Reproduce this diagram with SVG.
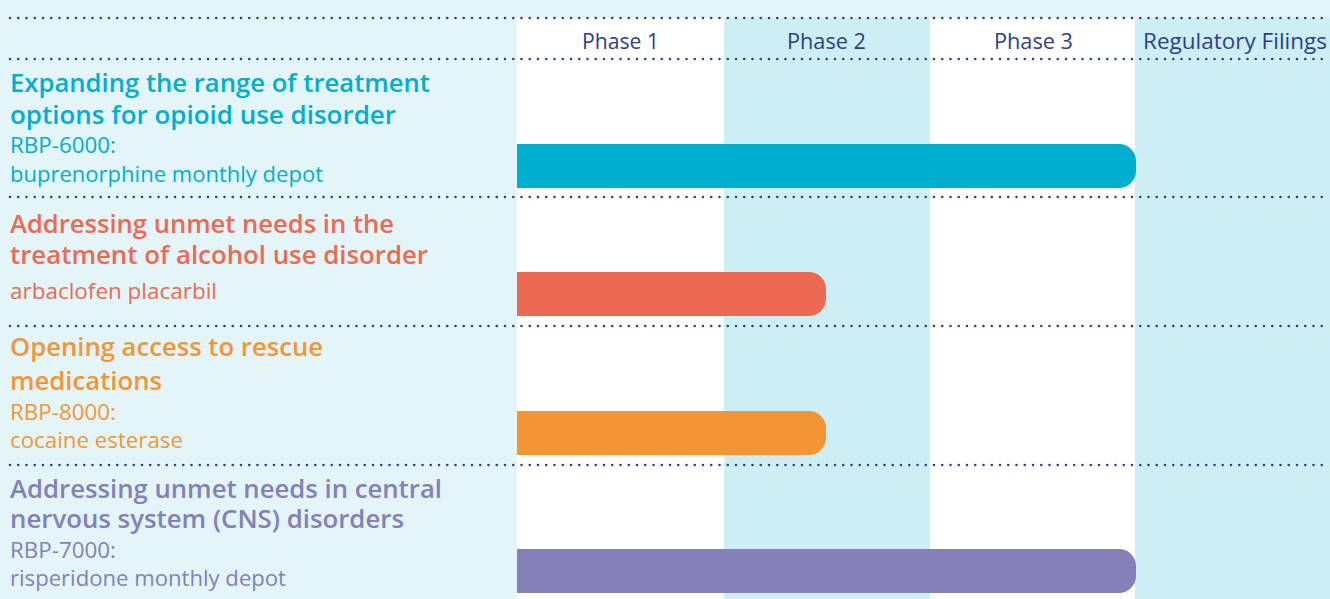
<svg xmlns="http://www.w3.org/2000/svg" width="1330" height="599" viewBox="0 0 1330 599">
<style>
.t{font-family:"Open Sans","Noto Sans","Liberation Sans",sans-serif;font-weight:600;font-size:26px}
.s{font-family:"Open Sans","Noto Sans","Liberation Sans",sans-serif;font-weight:400;font-size:21px}
.h{font-family:"Open Sans","Noto Sans","Liberation Sans",sans-serif;font-weight:400;font-size:21px;fill:#2E3F87}
.dot{stroke:#2E3F87;stroke-width:2.6;stroke-linecap:round;stroke-dasharray:0 8.25;fill:none}
.c1{fill:#00AECF}.c2{fill:#EE6952}.c3{fill:#F39535}.c4{fill:#8480B8}
</style>
<rect x="0" y="0" width="1330" height="599" fill="#E3F5F9"/>
<g id="columns">
<rect x="517" y="18" width="207" height="581" fill="#FFFFFF"/>
<rect x="724" y="18" width="206" height="581" fill="#CCEEF4"/>
<rect x="930" y="18" width="205" height="581" fill="#FFFFFF"/>
<rect x="1135" y="18" width="195" height="581" fill="#CCEEF4"/>
</g>
<g id="header">
<text class="h" x="582" y="49" textLength="77" lengthAdjust="spacingAndGlyphs">Phase 1</text>
<text class="h" x="787" y="49" textLength="79" lengthAdjust="spacingAndGlyphs">Phase 2</text>
<text class="h" x="994" y="49" textLength="79" lengthAdjust="spacingAndGlyphs">Phase 3</text>
<text class="h" x="1143" y="49" textLength="184" lengthAdjust="spacingAndGlyphs">Regulatory Filings</text>
</g>
<g id="lines">
<line class="dot" x1="10" y1="18" x2="1330" y2="18"/>
<line class="dot" x1="10" y1="59" x2="1330" y2="59"/>
<line class="dot" x1="10" y1="197" x2="1330" y2="197"/>
<line class="dot" x1="10" y1="326" x2="1330" y2="326"/>
<line class="dot" x1="10" y1="465" x2="1330" y2="465"/>
</g>
<g id="row1">
<text class="t c1" x="10" y="92" textLength="420" lengthAdjust="spacingAndGlyphs">Expanding the range of treatment</text>
<text class="t c1" x="10" y="124" textLength="386" lengthAdjust="spacingAndGlyphs">options for opioid use disorder</text>
<text class="s c1" x="10" y="153" textLength="106" lengthAdjust="spacingAndGlyphs">RBP-6000:</text>
<text class="s c1" x="10" y="182" textLength="313" lengthAdjust="spacingAndGlyphs">buprenorphine monthly depot</text>
<path class="c1" d="M517 144H1119A17 17 0 0 1 1136 161V171A17 17 0 0 1 1119 188H517Z"/>
</g>
<g id="row2">
<text class="t c2" x="10" y="233" textLength="384" lengthAdjust="spacingAndGlyphs">Addressing unmet needs in the</text>
<text class="t c2" x="10" y="264" textLength="418" lengthAdjust="spacingAndGlyphs">treatment of alcohol use disorder</text>
<text class="s c2" x="10" y="299" textLength="207" lengthAdjust="spacingAndGlyphs">arbaclofen placarbil</text>
<path class="c2" d="M517 272H809A17 17 0 0 1 826 289V299A17 17 0 0 1 809 316H517Z"/>
</g>
<g id="row3">
<text class="t c3" x="10" y="356" textLength="313" lengthAdjust="spacingAndGlyphs">Opening access to rescue</text>
<text class="t c3" x="10" y="390" textLength="152" lengthAdjust="spacingAndGlyphs">medications</text>
<text class="s c3" x="10" y="420" textLength="106" lengthAdjust="spacingAndGlyphs">RBP-8000:</text>
<text class="s c3" x="10" y="448" textLength="173" lengthAdjust="spacingAndGlyphs">cocaine esterase</text>
<path class="c3" d="M517 411H809A17 17 0 0 1 826 428V438A17 17 0 0 1 809 455H517Z"/>
</g>
<g id="row4">
<text class="t c4" x="10" y="498" textLength="432" lengthAdjust="spacingAndGlyphs">Addressing unmet needs in central</text>
<text class="t c4" x="10" y="528" textLength="394" lengthAdjust="spacingAndGlyphs">nervous system (CNS) disorders</text>
<text class="s c4" x="10" y="558" textLength="106" lengthAdjust="spacingAndGlyphs">RBP-7000:</text>
<text class="s c4" x="10" y="586" textLength="276" lengthAdjust="spacingAndGlyphs">risperidone monthly depot</text>
<path class="c4" d="M517 549H1119A17 17 0 0 1 1136 566V576A17 17 0 0 1 1119 593H517Z"/>
</g>
</svg>
